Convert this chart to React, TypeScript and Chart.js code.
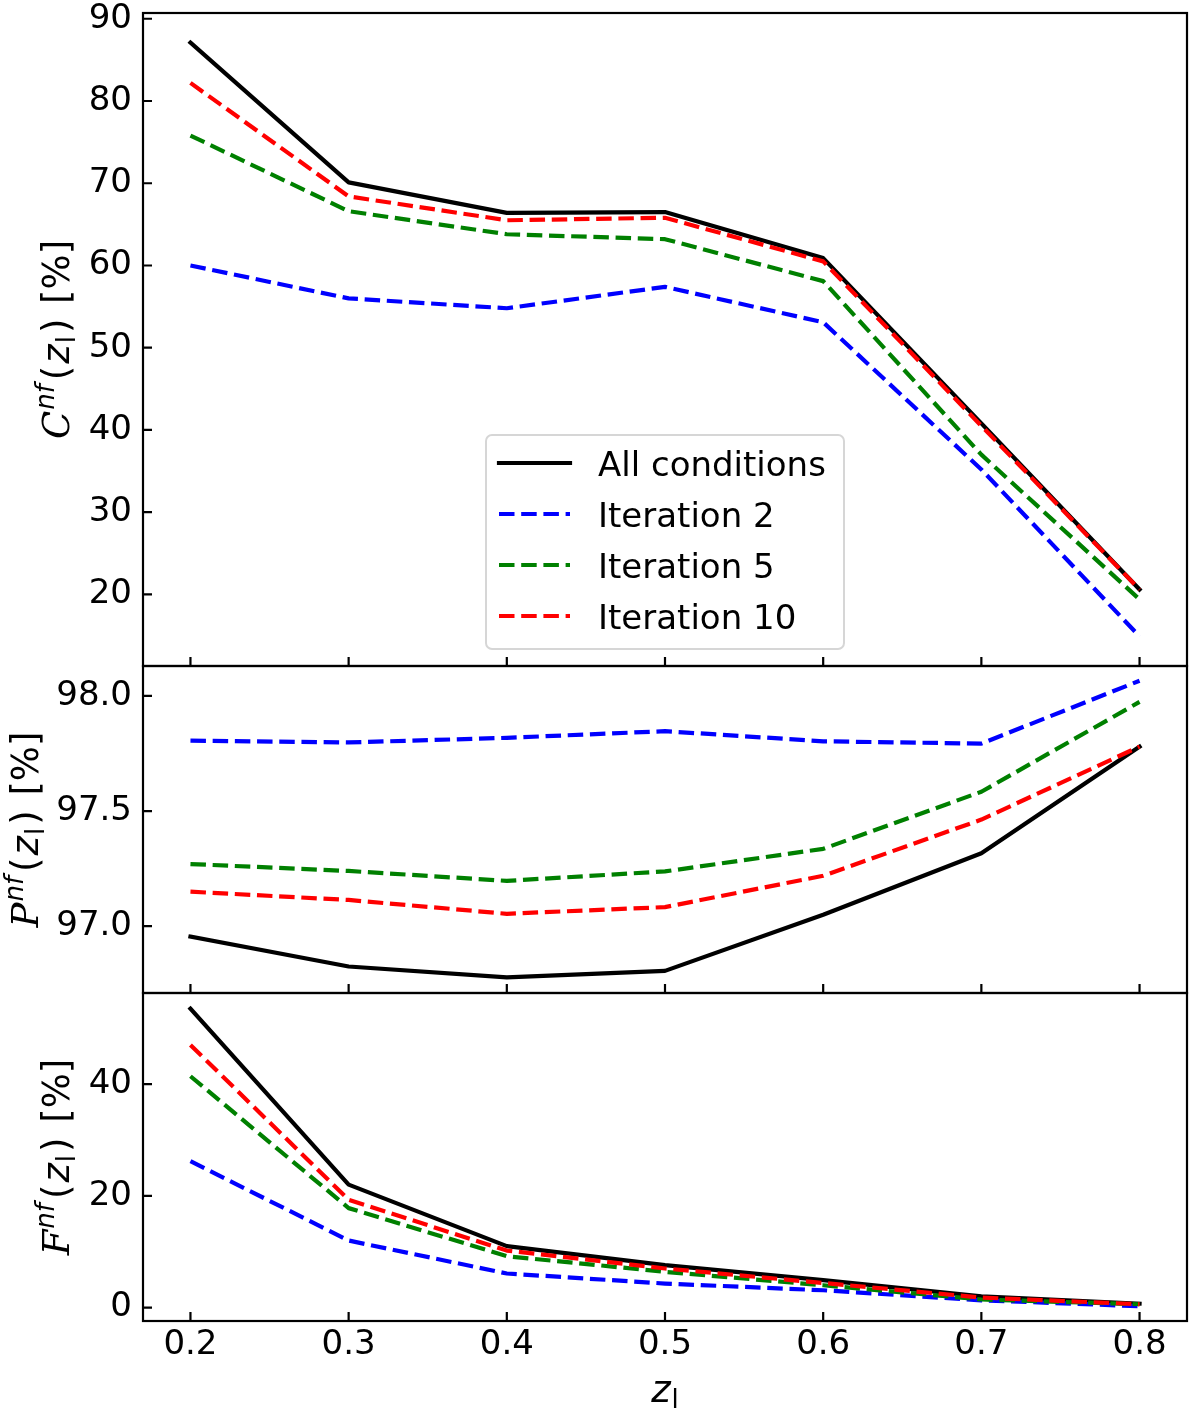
import { useEffect, useRef } from "react";
import { Chart, registerables } from "chart.js";

Chart.register(...registerables);

Chart.defaults.font.family = "'DejaVu Sans', sans-serif";
Chart.defaults.color = "#000";

// x values: lens redshift
const redshifts = [0.2, 0.3, 0.4, 0.5, 0.6, 0.7, 0.8];
const xTicks = [0.2, 0.3, 0.4, 0.5, 0.6, 0.7, 0.8];

const seriesLabels = ["All conditions", "Iteration 2", "Iteration 5", "Iteration 10"];
const seriesColors = ["#000000", "#0000ff", "#008000", "#ff0000"];

// top panel: C^nf(z_l) [%]
const complAll = [87.1, 70.1, 66.4, 66.5, 60.9, 40.8, 20.6];
const complIt2 = [60.0, 56.0, 54.8, 57.4, 53.1, 35.2, 14.9];
const complIt5 = [75.8, 66.6, 63.8, 63.2, 58.1, 37.0, 19.4];
const complIt10 = [82.2, 68.4, 65.5, 65.8, 60.5, 40.5, 20.6];
const complTicks = [20, 30, 40, 50, 60, 70, 80, 90];

// middle panel: P^nf(z_l) [%]
const purAll = [96.955, 96.825, 96.778, 96.806, 97.05, 97.317, 97.78];
const purIt2 = [97.806, 97.798, 97.818, 97.847, 97.803, 97.793, 98.066];
const purIt5 = [97.27, 97.24, 97.197, 97.238, 97.336, 97.584, 97.974];
const purIt10 = [97.15, 97.114, 97.054, 97.083, 97.219, 97.463, 97.78];
const purTicks = [97.0, 97.5, 98.0];

// bottom panel: F^nf(z_l) [%]
const fracAll = [53.5, 22.0, 11.0, 7.6, 4.9, 2.0, 0.7];
const fracIt2 = [26.2, 12.0, 6.1, 4.3, 3.1, 1.3, 0.25];
const fracIt5 = [41.4, 17.8, 9.2, 6.4, 4.0, 1.45, 0.6];
const fracIt10 = [47.0, 19.3, 10.2, 7.0, 4.4, 1.8, 0.6];
const fracTicks = [0, 20, 40];

const SANS = "'DejaVu Sans', sans-serif";
const LW = 4.2;
const DASH = [15.5, 6.7];

type Part = { text: string; font: string; dy?: number; gap?: number };

function axisLabel(letter: string): Part[] {
  return [
    { text: letter, font: `italic 37px 'DejaVu Serif', serif`, gap: 1 },
    { text: "nf", font: `italic 26px ${SANS}`, dy: -15, gap: 4 },
    { text: "(", font: `37px ${SANS}`, gap: 2 },
    { text: "z", font: `italic 37px ${SANS}`, gap: 1 },
    { text: "l", font: `26px ${SANS}`, dy: 6, gap: 3 },
    { text: ")", font: `37px ${SANS}`, gap: 3 },
    { text: " [%]", font: `37px ${SANS}` },
  ];
}

function drawParts(ctx: CanvasRenderingContext2D, parts: Part[], x: number, y: number) {
  const widths = parts.map((p) => {
    ctx.font = p.font;
    return ctx.measureText(p.text).width + (p.gap || 0);
  });
  const total = widths.reduce((a, b) => a + b, 0);
  let cx = x - total / 2;
  ctx.textAlign = "left";
  ctx.textBaseline = "alphabetic";
  parts.forEach((p, i) => {
    ctx.font = p.font;
    ctx.fillText(p.text, cx, y + (p.dy || 0));
    cx += widths[i];
  });
}

function lineSets(groups: number[][]) {
  return groups.map((vals, i) => ({
    label: seriesLabels[i],
    data: redshifts.map((z, j) => ({ x: z, y: vals[j] })),
    borderColor: seriesColors[i],
    backgroundColor: seriesColors[i],
    borderWidth: LW,
    borderDash: i === 0 ? [] : DASH,
    borderCapStyle: i === 0 ? "square" : "butt",
    borderJoinStyle: "round",
    pointRadius: 0,
    fill: false,
    tension: 0,
    order: 4 - i,
  }));
}

type PanelCfg = {
  letter: string;
  titleX: number;
  legend?: boolean;
  xTitle?: boolean;
};

// frame, inward ticks, y title, legend and x title
function decorPlugin(cfg: PanelCfg) {
  return {
    id: "panelDecor",
    afterDraw(chart: any) {
      const ctx: CanvasRenderingContext2D = chart.ctx;
      const { left, right, top, bottom } = chart.chartArea;
      const xs = chart.scales.x;
      const ys = chart.scales.y;
      ctx.save();
      ctx.strokeStyle = "#000";
      ctx.fillStyle = "#000";
      ctx.lineWidth = 2.2;
      ctx.setLineDash([]);
      ctx.beginPath();
      ys.ticks.forEach((t: any) => {
        const py = ys.getPixelForValue(t.value);
        ctx.moveTo(left, py);
        ctx.lineTo(left + 9, py);
      });
      xs.ticks.forEach((t: any) => {
        const px = xs.getPixelForValue(t.value);
        ctx.moveTo(px, bottom);
        ctx.lineTo(px, bottom - 9);
      });
      ctx.stroke();
      ctx.strokeRect(left, top, right - left, bottom - top);

      ctx.save();
      ctx.translate(cfg.titleX, (top + bottom) / 2);
      ctx.rotate(-Math.PI / 2);
      drawParts(ctx, axisLabel(cfg.letter), 0, 0);
      ctx.restore();

      if (cfg.legend) {
        const bx = 486;
        const by = 435;
        const bw = 358;
        const bh = 214;
        ctx.beginPath();
        (ctx as any).roundRect(bx, by, bw, bh, 6);
        ctx.fillStyle = "rgba(255,255,255,0.8)";
        ctx.fill();
        ctx.strokeStyle = "#d6d6d6";
        ctx.lineWidth = 2;
        ctx.stroke();
        chart.data.datasets.forEach((ds: any, i: number) => {
          const ry = 463 + i * 51;
          ctx.strokeStyle = ds.borderColor;
          ctx.lineWidth = LW;
          ctx.lineCap = ds.borderDash.length ? "butt" : "square";
          ctx.setLineDash(ds.borderDash);
          ctx.beginPath();
          ctx.moveTo(499, ry);
          ctx.lineTo(570, ry);
          ctx.stroke();
          ctx.setLineDash([]);
          ctx.fillStyle = "#000";
          ctx.font = `34px ${SANS}`;
          ctx.textAlign = "left";
          ctx.textBaseline = "alphabetic";
          ctx.fillText(ds.label, 598, ry + 12.5);
        });
      }

      if (cfg.xTitle) {
        ctx.fillStyle = "#000";
        drawParts(
          ctx,
          [
            { text: "z", font: `italic 37px ${SANS}`, gap: 1 },
            { text: "l", font: `26px ${SANS}`, dy: 6 },
          ],
          (left + right) / 2,
          bottom + 81
        );
      }
      ctx.restore();
    },
  };
}

type ChartCfg = PanelCfg & {
  groups: number[][];
  yMin: number;
  yMax: number;
  yTicks: number[];
  yFmt: (v: number) => string;
  padTop: number;
  padBottom: number;
  xHeight: number;
  showX: boolean;
};

function makeChart(canvas: HTMLCanvasElement, cfg: ChartCfg) {
  return new Chart(canvas, {
    type: "line",
    data: { datasets: lineSets(cfg.groups) as any },
    options: {
      animation: false,
      responsive: true,
      maintainAspectRatio: false,
      layout: { padding: { left: 0, right: 13, top: cfg.padTop, bottom: cfg.padBottom } },
      plugins: { legend: { display: false }, tooltip: { enabled: false } },
      scales: {
        x: {
          type: "linear",
          min: 0.17,
          max: 0.83,
          afterBuildTicks: (s: any) => {
            s.ticks = xTicks.map((v) => ({ value: v }));
          },
          afterFit: (s: any) => {
            s.height = cfg.xHeight;
            s.paddingLeft = 0;
            s.paddingRight = 0;
          },
          ticks: {
            display: cfg.showX,
            autoSkip: false,
            maxRotation: 0,
            padding: 4,
            font: { size: 34 },
            callback: (v: any) => Number(v).toFixed(1),
          },
          grid: { display: false, drawTicks: false },
          border: { display: false },
        },
        y: {
          type: "linear",
          min: cfg.yMin,
          max: cfg.yMax,
          afterBuildTicks: (s: any) => {
            s.ticks = cfg.yTicks.map((v) => ({ value: v }));
          },
          afterFit: (s: any) => {
            s.width = 143;
            s.paddingTop = 0;
            s.paddingBottom = 0;
          },
          ticks: {
            autoSkip: false,
            padding: 11,
            font: { size: 34 },
            callback: (v: any) => cfg.yFmt(Number(v)),
          },
          grid: { display: false, drawTicks: false },
          border: { display: false },
        },
      },
    },
    plugins: [decorPlugin(cfg)],
  });
}

export default function App() {
  const topRef = useRef<HTMLCanvasElement | null>(null);
  const midRef = useRef<HTMLCanvasElement | null>(null);
  const botRef = useRef<HTMLCanvasElement | null>(null);

  useEffect(() => {
    if (!topRef.current || !midRef.current || !botRef.current) return;
    const charts = [
      makeChart(topRef.current, {
        letter: "C",
        titleX: 69,
        legend: true,
        groups: [complAll, complIt2, complIt5, complIt10],
        yMin: 11.3,
        yMax: 90.7,
        yTicks: complTicks,
        yFmt: (v) => String(Math.round(v)),
        padTop: 13,
        padBottom: 6,
        xHeight: 0,
        showX: false,
      }),
      makeChart(midRef.current, {
        letter: "P",
        titleX: 38,
        groups: [purAll, purIt2, purIt5, purIt10],
        yMin: 96.71,
        yMax: 98.13,
        yTicks: purTicks,
        yFmt: (v) => v.toFixed(1),
        padTop: 6,
        padBottom: 7,
        xHeight: 0,
        showX: false,
      }),
      makeChart(botRef.current, {
        letter: "F",
        titleX: 69,
        xTitle: true,
        groups: [fracAll, fracIt2, fracIt5, fracIt10],
        yMin: -2.4,
        yMax: 56.3,
        yTicks: fracTicks,
        yFmt: (v) => String(Math.round(v)),
        padTop: 7,
        padBottom: 0,
        xHeight: 88,
        showX: true,
      }),
    ];
    return () => {
      charts.forEach((c) => c.destroy());
    };
  }, []);

  const box = (top: number, height: number) => ({
    position: "absolute" as const,
    left: 0,
    top,
    width: 1200,
    height,
  });

  return (
    <div style={{ position: "absolute", left: 0, top: 0, width: 1200, height: 1409, background: "#fff" }}>
      <div style={box(0, 672)}>
        <canvas ref={topRef} />
      </div>
      <div style={box(660, 340)}>
        <canvas ref={midRef} />
      </div>
      <div style={box(986, 423)}>
        <canvas ref={botRef} />
      </div>
    </div>
  );
}
